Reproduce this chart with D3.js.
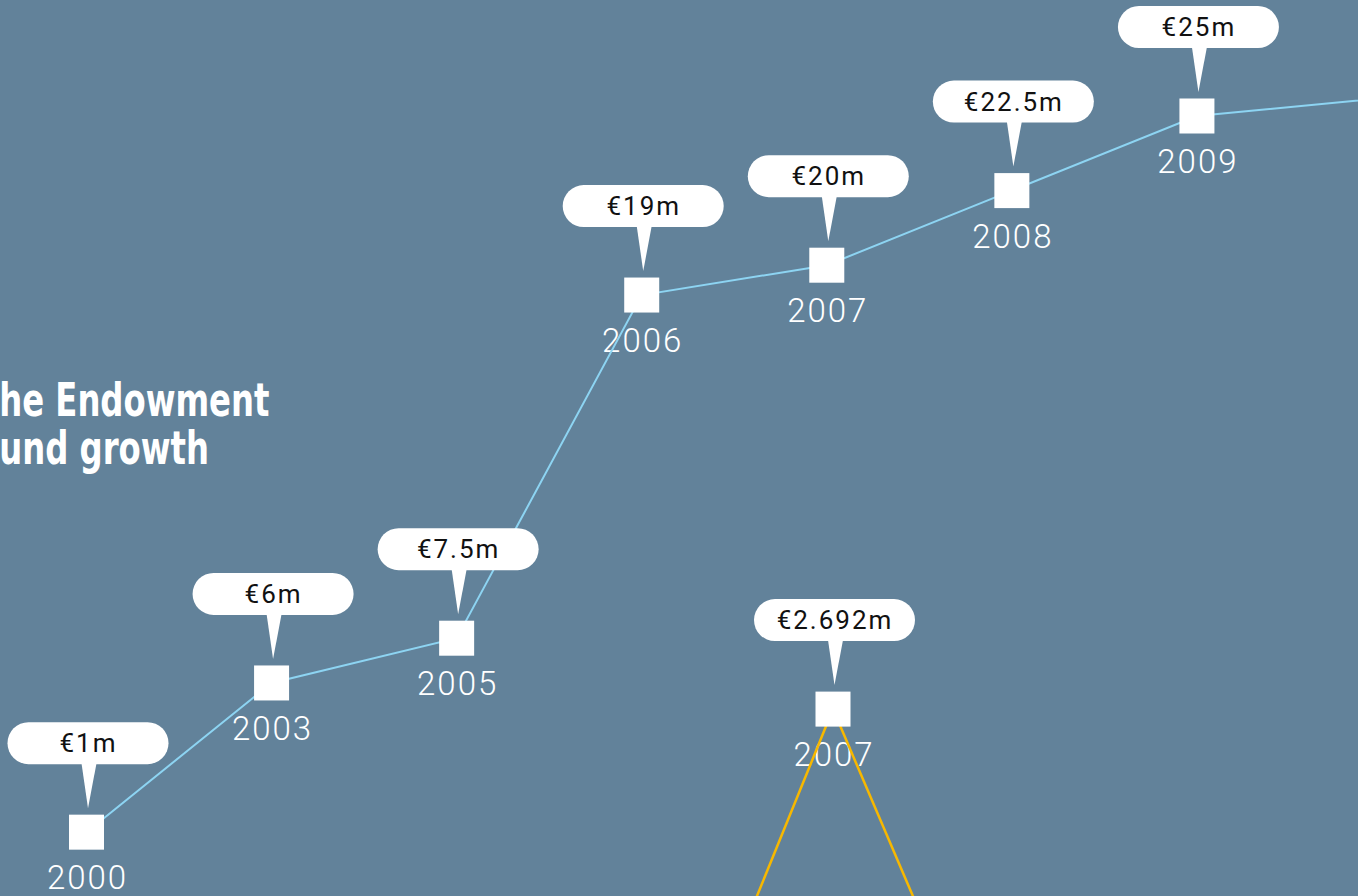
<!DOCTYPE html>
<html>
<head>
<meta charset="utf-8">
<script src="https://cdn.jsdelivr.net/npm/d3@7"></script>
<style>
    html, body { margin: 0; padding: 0; overflow: hidden; background: #62829a; }
    svg { display: block; }
</style>
</head>
<body>
<svg id="chart"></svg>
<script>
// Endowment fund total, by year (last value only continues the line past the frame)
const fundYears = ["2000", "2003", "2005", "2006", "2007", "2008", "2009", "2010"];
const fundValues = [1, 6, 7.5, 19, 20, 22.5, 25, 25.6];
const fundLabels = ["€1m", "€6m", "€7.5m", "€19m", "€20m", "€22.5m", "€25m", null];

// Second (yellow) series, only 2007 is inside the frame
const incomeYears = ["2006", "2007", "2008"];
const incomeValues = [0.62, 2.692, 0.72];
const incomeLabels = [null, "€2.692m", null];

const titleLines = ["The Endowment", "Fund growth"];

class GrowthChart {
    constructor(_config) {
        this.config = {
            parentElement: _config.parentElement,
            containerWidth: _config.containerWidth || 1358,
            containerHeight: _config.containerHeight || 896
        }
        this.initVis();
    }

    initVis() {
        let vis = this;

        vis.svg = d3.select(vis.config.parentElement)
            .attr('width', vis.config.containerWidth)
            .attr('height', vis.config.containerHeight);

        vis.svg.append('rect')
            .attr('width', vis.config.containerWidth)
            .attr('height', vis.config.containerHeight)
            .attr('fill', '#62829a');

        // title, its first letter runs off the left edge
        const title = vis.svg.append('text')
            .attr('transform', 'scale(0.78,1)')
            .attr('fill', '#fff')
            .attr('font-family', '"DejaVu Sans Condensed", "DejaVu Sans", sans-serif')
            .attr('font-weight', 'bold')
            .attr('font-size', '46px');

        title.selectAll('tspan')
            .data(titleLines)
            .join('tspan')
            .attr('y', (d, i) => 416 + i * 48)
            .text(d => d)
            .attr('x', function () { return -this.getSubStringLength(0, 1) - 1; });

        // fund scales
        vis.xFund = d3.scalePoint()
            .domain(fundYears)
            .range([86.5, 1382]);
        vis.yFund = d3.scaleLinear()
            .domain([0, 25])
            .range([862, 116]);

        // yellow series has its own scales
        vis.xIncome = d3.scalePoint()
            .domain(incomeYears)
            .range([648, 1018]);
        vis.yIncome = d3.scaleLinear()
            .domain([0, 3])
            .range([1300, 641.5]);

        vis.labelLayer = vis.svg.append('g');
        vis.lineLayer = vis.svg.append('g');
        vis.markLayer = vis.svg.append('g');

        vis.renderVis();
    }

    drawSeries(years, values, labels, x, y, colour, width) {
        let vis = this;
        const data = years.map((yr, i) => ({ year: yr, value: values[i], label: labels[i] }));
        const pts = data.filter(d => d.label !== null);

        vis.labelLayer.append('g')
            .selectAll('text')
            .data(pts)
            .join('text')
            .attr('x', d => x(d.year) + 1)
            .attr('y', d => y(d.value) + 57)
            .attr('text-anchor', 'middle')
            .attr('fill', '#fff')
            .attr('font-family', 'Roboto, sans-serif')
            .attr('font-weight', 300)
            .attr('font-size', '33px')
            .attr('letter-spacing', '2px')
            .text(d => d.year);

        const line = d3.line()
            .x(d => x(d.year))
            .y(d => y(d.value));

        vis.lineLayer.append('path')
            .datum(data)
            .attr('d', line)
            .attr('fill', 'none')
            .attr('stroke', colour)
            .attr('stroke-width', width);

        const mark = vis.markLayer.append('g')
            .selectAll('g')
            .data(pts)
            .join('g')
            .attr('transform', d => `translate(${x(d.year)},${y(d.value)})`);

        mark.append('rect')
            .attr('x', -17.5)
            .attr('y', -17.5)
            .attr('width', 35)
            .attr('height', 35)
            .attr('fill', '#fff');

        // speech bubble with the value
        mark.append('rect')
            .attr('x', 1.5 - 80.5)
            .attr('y', -110)
            .attr('width', 161)
            .attr('height', 42)
            .attr('rx', 21)
            .attr('fill', '#fff');

        mark.append('path')
            .attr('d', 'M-5,-69 L10,-69 L1.5,-24 Z')
            .attr('fill', '#fff');

        mark.append('text')
            .attr('x', 2)
            .attr('y', -80)
            .attr('text-anchor', 'middle')
            .attr('fill', '#111')
            .attr('font-family', 'Roboto, sans-serif')
            .attr('font-weight', 400)
            .attr('font-size', '26px')
            .attr('letter-spacing', '2px')
            .text(d => d.label);
    }

    renderVis() {
        let vis = this;
        vis.drawSeries(fundYears, fundValues, fundLabels, vis.xFund, vis.yFund, '#8dd4f2', 2);
        vis.drawSeries(incomeYears, incomeValues, incomeLabels, vis.xIncome, vis.yIncome, '#f7b800', 2.5);
    }
}

new GrowthChart({ parentElement: '#chart' });
</script>
</body>
</html>
